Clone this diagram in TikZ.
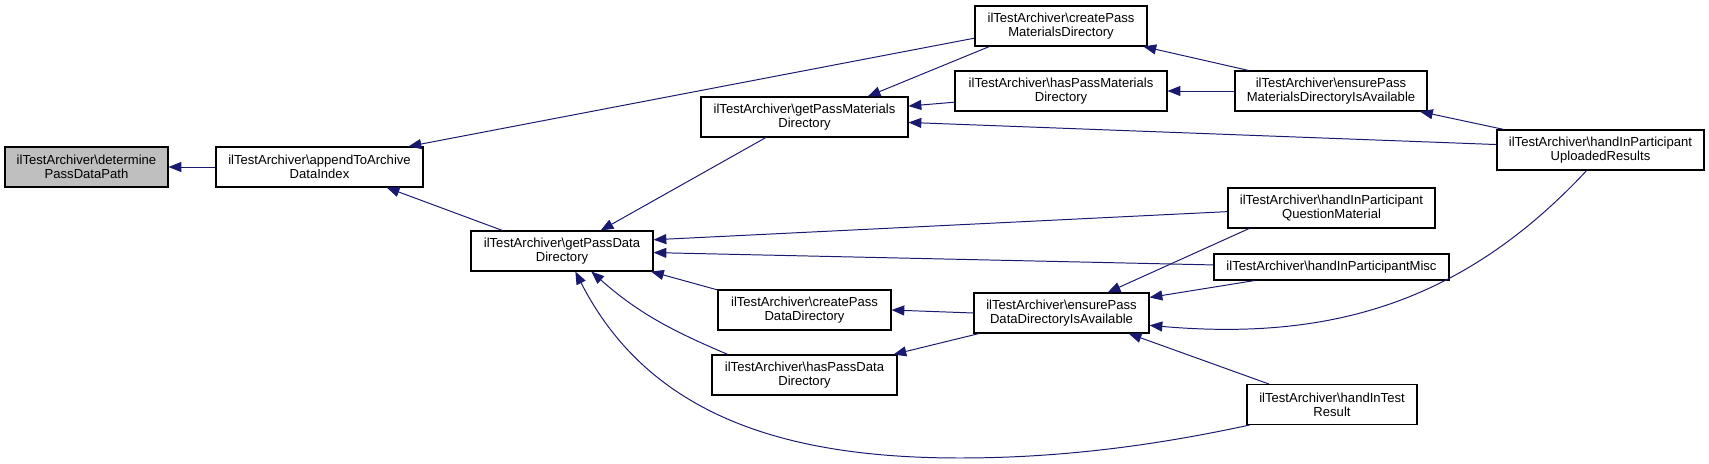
\documentclass[tikz,border=0pt]{standalone}
\usepackage{fontspec}
\setmainfont{Liberation Sans}
\usepackage{xcolor}
\definecolor{callblue}{RGB}{25,25,112}
\newcommand{\ilt}{ilTestArchiver\textbackslash}
\usepackage{tikz}
\usetikzlibrary{arrows.meta}
\usetikzlibrary{calc}

\begin{document}
\begin{tikzpicture}[x=0.025cm, y=-0.025cm,
    fn/.style={draw, line width=0.75pt, align=center, inner sep=0pt,
      minimum width=#1*0.025cm, minimum height=1cm,
      font=\fontsize{9.3}{10.2}\selectfont},
    call/.style={draw=callblue, line width=0.7pt,
      arrows={Triangle[length=0.32cm, width=0.25cm]-}}]

    \useasboundingbox (0, 0) rectangle (1709, 464);

    \node [fn=163, fill=black!25] (det) at (86.5, 167)
    {\ilt determine\\PassDataPath};
    \node [fn=207] (app) at (319.5, 167)
    {\ilt appendToArchive\\DataIndex};

    \node [fn=207] (gpm) at (804.5, 117)
    {\ilt getPassMaterials\\Directory};
    \node [fn=182] (gpd) at (562, 251)
    {\ilt getPassData\\Directory};
    \node [fn=173] (cpd) at (804.5, 310)
    {\ilt createPass\\DataDirectory};
    \node [fn=185] (hpd) at (804.5, 375)
    {\ilt hasPassData\\Directory};

    \node [fn=172] (cpm) at (1061, 26)
    {\ilt createPass\\MaterialsDirectory};
    \node [fn=212] (hpm) at (1061, 91)
    {\ilt hasPassMaterials\\Directory};
    \node [fn=175] (epd) at (1061.5, 313)
    {\ilt ensurePass\\DataDirectoryIsAvailable};

    \node [fn=192] (epm) at (1331, 91)
    {\ilt ensurePass\\MaterialsDirectoryIsAvailable};
    \node [fn=207] (que) at (1331.5, 208)
    {\ilt handInParticipant\\QuestionMaterial};
    \node [fn=235, minimum height=0.65cm] (mis) at (1331.5, 267)
    {\ilt handInParticipantMisc};
    \node [fn=170] (hit) at (1332, 404.5)
    {\ilt handInTest\\Result};

    \node [fn=207] (upl) at (1600.5, 150)
    {\ilt handInParticipant\\UploadedResults};

    \draw [call] (det.east) -- (app.west);
    \draw [call] (app.13) -- (cpm.188);
    \draw [call] (app.-17) -- (gpd.161);

    \draw [call] (gpm.18) -- (cpm.196);
    \draw [call] (gpm.6) -- (hpm.186);
    \draw [call] (gpm.-3) -- (upl.177);
    \draw [call] (gpd.28) -- (gpm.208);

    \draw [call] (cpm.-14) -- (epm.166);
    \draw [call] (hpm.east) -- (epm.west);
    \draw [call] (epm.-13) -- (upl.168);

    \draw [call] (gpd.7) -- (que.182);
    \draw [call] (gpd.-1) -- (mis.179);
    \draw [call] (gpd.-13) -- (cpd.167);
    \draw [call] (gpd.-35) .. controls (637, 312) and (670, 330) .. (hpd.165);
    \draw [call] (gpd.-57) .. controls (651, 420) and (793, 458) .. (960, 458)
    .. controls (1080, 458) and (1180, 440) .. (hit.194);

    \draw [call] (cpd.east) -- (epd.west);
    \draw [call] (hpd.13) -- (epd.194);

    \draw [call] (epd.24) -- (que.194);
    \draw [call] (epd.10) -- (mis.190);
    \draw [call] (epd.-8) .. controls (1330, 341) and (1463, 303) .. (upl.236);
    \draw [call] (epd.-17) -- (hit.162);

\end{tikzpicture}
\end{document}
